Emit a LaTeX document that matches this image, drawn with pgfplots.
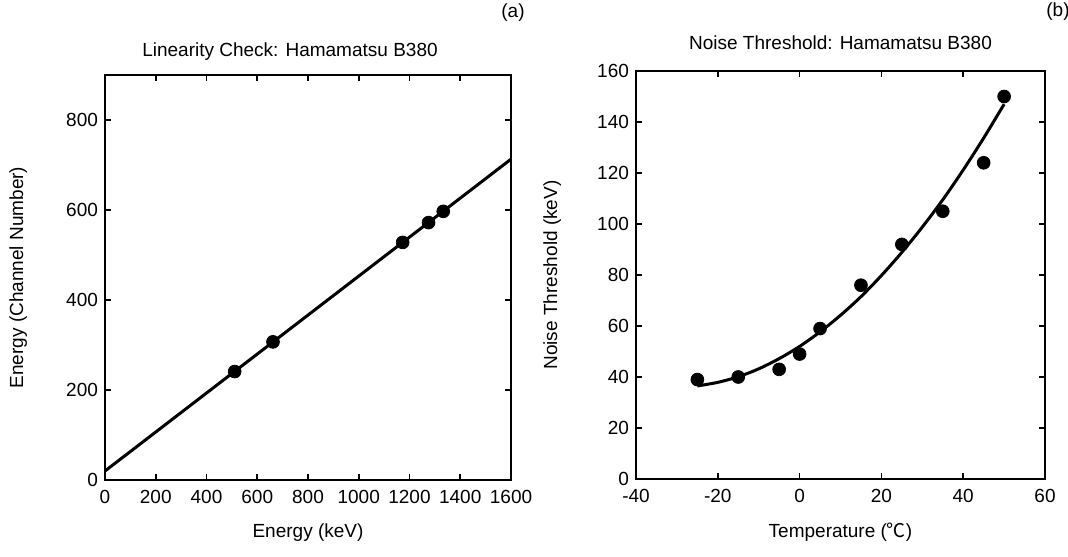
\documentclass[border=0pt]{standalone}
\usepackage{fontspec}
\setmainfont{Liberation Sans}
\newfontfamily\cjk{Noto Sans CJK SC}
\usepackage{pgfplots}
\pgfplotsset{compat=1.18}

\pgfplotsset{
  every axis title shift=0pt,
  panel/.style={
    scale only axis,
    axis line style={line width=1.2pt},
    tick style={line width=0.8pt, black},
    major tick length=3pt,
    tick align=inside,
    font=\fontsize{9.5}{11}\selectfont,
    /pgf/number format/assume math mode=true,
    /pgf/number format/1000 sep={},
    xticklabel style={yshift=-1.5pt},
    xlabel style={at={(axis description cs:0.5,-0.13)}, anchor=center},
    title style={anchor=center},
  },
}

\begin{document}
\begin{tikzpicture}
\path[use as bounding box] (0,0) rectangle (534pt,278pt);

% (a) linearity
\begin{axis}[panel,
    at={(52.5pt,38pt)}, anchor=south west,
    width=203pt, height=202.5pt,
    xmin=0, xmax=1600, xtick distance=200,
    ymin=0, ymax=900, ytick={0,200,...,800},
    title={Linearity Check: Hamamatsu B380},
    title style={at={(axis description cs:0.5,1.057)}, xshift=-9pt},
    xlabel={Energy (keV)},
    ylabel={Energy (Channel Number)},
    ylabel style={at={(axis description cs:-0.214,0.5)}, anchor=center},
]
\addplot[black, line width=1.5pt] coordinates {(0,20) (1600,713)};
\addplot[only marks, mark=*, mark size=3.2pt, black] coordinates {
    (511,241) (662,307) (1173,528) (1275,572) (1333,597)
};
\end{axis}

% (b) noise threshold
\begin{axis}[panel,
    at={(318pt,38.5pt)}, anchor=south west,
    width=204.5pt, height=204pt,
    xmin=-40, xmax=60, xtick distance=20,
    ymin=0, ymax=160, ytick distance=20,
    title={Noise Threshold: Hamamatsu B380},
    title style={at={(axis description cs:0.5,1.069)}},
    xlabel={Temperature ({\cjk ℃})},
    ylabel={Noise Threshold (keV)},
    ylabel style={at={(axis description cs:-0.205,0.5)}, anchor=center},
]
\addplot[black, line width=1.5pt, smooth] coordinates {
    (-25,36.5) (-20,37.9) (-15,40.1) (-10,43.2) (-5,47.2) (0,52)
    (5,57.7) (10,64.2) (15,71.5) (20,79.8) (25,88.9) (30,98.8)
    (35,109.5) (40,121.2) (45,133.7) (50,147)
};
\addplot[only marks, mark=*, mark size=3.2pt, black] coordinates {
    (-25,39) (-15,40) (-5,43) (0,49) (5,59) (15,76)
    (25,92) (35,105) (45,124) (50,150)
};
\end{axis}

\node[font=\fontsize{9.5}{11}\selectfont] at (256.5pt,271.5pt) {(a)};
\node[font=\fontsize{9.5}{11}\selectfont] at (529pt,272pt) {(b)};
\end{tikzpicture}
\end{document}
